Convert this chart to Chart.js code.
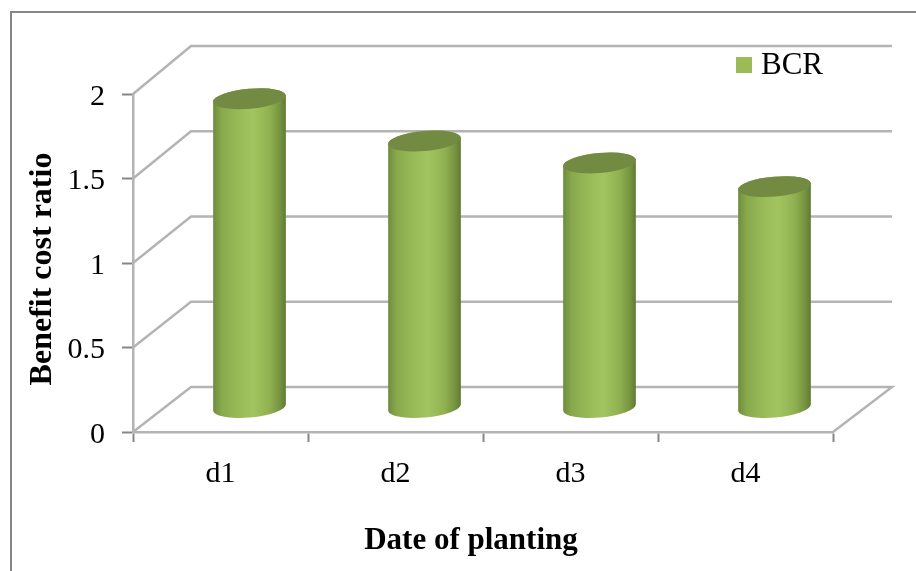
<!DOCTYPE html>
<html lang="en">
<head>
    <meta charset="UTF-8">
    <title>Benefit cost ratio</title>
    <script src="https://cdn.jsdelivr.net/npm/chart.js"></script>
    <style>
        * {
            padding: 0px;
            margin: 0px;
            box-sizing: border-box;
        }

        body {
            background-color: #ffffff;
            width: 916px;
            height: 571px;
            overflow: hidden;
        }

        #frame {
            position: absolute;
            left: 10px;
            top: 11px;
            width: 906px;
            height: 560px;
            border-top: 2px solid #868686;
            border-left: 2px solid #868686;
        }

        canvas {
            position: absolute;
            left: 0px;
            top: 0px;
        }
    </style>
</head>

<body>
    <div id="frame"></div>
    <canvas id="chart" width="916" height="571"></canvas>

    <script>
        const categories = ['d1', 'd2', 'd3', 'd4'];
        const bcrValues = [1.83, 1.58, 1.45, 1.31];
        const yTicks = [0, 0.5, 1, 1.5, 2];
        const seriesName = 'BCR';
        const xTitle = 'Date of planting';
        const yTitle = 'Benefit cost ratio';

        const serif = "'Liberation Serif', 'Times New Roman', serif";
        const gridColor = '#b4b4b4';
        const tickColor = '#868686';
        const barColor = '#9bbb59';

        // fake 3D depth: back wall offset and bar offset from the front plane
        const wallDx = 58;
        const wallDy = 45;
        const wallStretch = 1.009;
        const barDx = 29;
        const barDy = 24;

        class CylinderElement extends Chart.BarElement {
            static id = 'cylinder';

            draw(ctx) {
                const { x, y, base, width } = this.getProps(['x', 'y', 'base', 'width']);
                const cx = x + barDx;
                const top = y - barDy;
                const bottom = base - barDy;
                const rx = width / 2;
                const ry = 10;
                const tilt = -5 * Math.PI / 180;

                const grad = ctx.createLinearGradient(cx - rx, 0, cx + rx, 0);
                grad.addColorStop(0, '#6e8c3e');
                grad.addColorStop(0.12, '#88a94c');
                grad.addColorStop(0.3, '#96b755');
                grad.addColorStop(0.55, '#a3c560');
                grad.addColorStop(0.78, '#8fb050');
                grad.addColorStop(0.92, '#76933f');
                grad.addColorStop(1, '#5f7935');

                ctx.save();
                ctx.beginPath();
                ctx.ellipse(cx, bottom, rx, ry, tilt, 0, Math.PI);
                ctx.ellipse(cx, top, rx, ry, tilt, Math.PI, 2 * Math.PI);
                ctx.closePath();
                ctx.fillStyle = grad;
                ctx.fill();

                ctx.beginPath();
                ctx.ellipse(cx, top, rx, ry, tilt, 0, 2 * Math.PI);
                ctx.fillStyle = '#728a42';
                ctx.fill();
                ctx.restore();
            }
        }

        class CylinderController extends Chart.BarController {
            static id = 'cylinder';
            static defaults = { dataElementType: 'cylinder' };
        }

        Chart.register(CylinderElement, CylinderController);

        // side wall, back wall and floor lines, hung off the y scale ticks
        const wallPlugin = {
            id: 'walls',
            beforeDatasetsDraw(chart) {
                const ctx = chart.ctx;
                const { left, right, bottom } = chart.chartArea;
                const yScale = chart.scales.y;
                ctx.save();
                ctx.strokeStyle = gridColor;
                ctx.lineWidth = 2.5;
                ctx.lineJoin = 'miter';
                yTicks.forEach(v => {
                    const y = yScale.getPixelForValue(v);
                    const backY = y - wallDy - (bottom - y) * (wallStretch - 1);
                    ctx.beginPath();
                    ctx.moveTo(left, y);
                    ctx.lineTo(left + wallDx, backY);
                    ctx.lineTo(right + wallDx + 1, backY);
                    if (v === 0) {
                        ctx.lineTo(right, y);
                    }
                    ctx.stroke();
                });
                ctx.restore();
            }
        };

        // axis titles sit off the plot centre, and the legend swatch hugs its text
        const labelPlugin = {
            id: 'labels',
            afterDraw(chart) {
                const ctx = chart.ctx;
                ctx.save();
                ctx.fillStyle = '#000000';
                ctx.textBaseline = 'middle';

                ctx.font = `bold 31px ${serif}`;
                ctx.textAlign = 'center';
                ctx.fillText(xTitle, 471, 541);

                ctx.font = `bold 32px ${serif}`;
                ctx.save();
                ctx.translate(43, 269);
                ctx.rotate(-Math.PI / 2);
                ctx.fillText(yTitle, 0, 0);
                ctx.restore();

                ctx.fillStyle = barColor;
                ctx.fillRect(736, 57, 16, 16);
                ctx.fillStyle = '#000000';
                ctx.font = `31px ${serif}`;
                ctx.textAlign = 'left';
                ctx.fillText(chart.data.datasets[0].label, 761, 66);
                ctx.restore();
            }
        };

        new Chart(document.getElementById('chart').getContext('2d'), {
            type: 'cylinder',
            data: {
                labels: categories,
                datasets: [{
                    label: seriesName,
                    data: bcrValues,
                    backgroundColor: barColor,
                    categoryPercentage: 1,
                    barPercentage: 0.417,
                    clip: false
                }]
            },
            options: {
                responsive: false,
                animation: false,
                layout: {
                    padding: { top: 94, right: 83, bottom: 0, left: 0 }
                },
                plugins: {
                    legend: { display: false },
                    tooltip: { enabled: false }
                },
                scales: {
                    x: {
                        afterFit(scale) { scale.height = 139; },
                        grid: {
                            drawOnChartArea: false,
                            tickLength: 10,
                            tickWidth: 2,
                            tickColor: tickColor
                        },
                        border: { color: gridColor, width: 2.5 },
                        ticks: {
                            color: '#000000',
                            padding: 14,
                            maxRotation: 0,
                            font: { family: serif, size: 30 }
                        }
                    },
                    y: {
                        min: 0,
                        max: 2,
                        afterFit(scale) { scale.width = 133; },
                        afterBuildTicks(scale) {
                            scale.ticks = yTicks.map(v => ({ value: v }));
                        },
                        grid: {
                            drawOnChartArea: false,
                            tickLength: 11,
                            tickWidth: 2,
                            tickColor: tickColor
                        },
                        border: { color: gridColor, width: 2.5 },
                        ticks: {
                            color: '#000000',
                            padding: 17,
                            labelOffset: 3,
                            font: { family: serif, size: 30 },
                            callback: v => String(v)
                        }
                    }
                }
            },
            plugins: [wallPlugin, labelPlugin]
        });
    </script>
</body>
</html>
